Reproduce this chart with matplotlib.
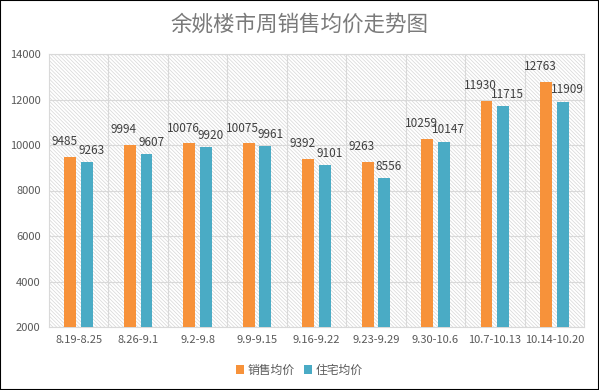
import matplotlib
matplotlib.use("Agg")
import matplotlib.pyplot as plt
import numpy as np
from matplotlib import font_manager

plt.rcParams['font.family'] = ['Noto Sans CJK SC', 'DejaVu Sans']
plt.rcParams['hatch.linewidth'] = 0.5

categories = ["8.19-8.25", "8.26-9.1", "9.2-9.8", "9.9-9.15", "9.16-9.22",
              "9.23-9.29", "9.30-10.6", "10.7-10.13", "10.14-10.20"]
sales_avg = [9485, 9994, 10076, 10075, 9392, 9263, 10259, 11930, 12763]
house_avg = [9263, 9607, 9920, 9961, 9101, 8556, 10147, 11715, 11909]
series_names = ["销售均价", "住宅均价"]
yticks = [2000, 4000, 6000, 8000, 10000, 12000, 14000]

names = {f.name for f in font_manager.fontManager.ttflist}
label_family = ['Liberation Sans Narrow', 'DejaVu Sans'] if 'Liberation Sans Narrow' in names \
    else ['Noto Sans CJK SC', 'DejaVu Sans']

fig = plt.figure(figsize=(5.99, 3.90), dpi=100)
ax = fig.add_axes([49/599, 1-327/390, (584-49)/599, (327-54)/390])

# hatched background
ax.add_patch(plt.Rectangle((0, 0), 1, 1, transform=ax.transAxes, facecolor='white',
                           edgecolor='#d6d6d6', linewidth=0, hatch='\\' * 9, zorder=0))

x = np.arange(len(categories))
w = 0.2
off = 0.14
c1, c2 = '#F7923A', '#4AABC5'
b1 = ax.bar(x - off, sales_avg, w, color=c1, label=series_names[0], zorder=3)
b2 = ax.bar(x + off, house_avg, w, color=c2, label=series_names[1], zorder=3)

for xi, v in zip(x, sales_avg):
    ax.text(xi - off - 0.1, v + 380, str(v), ha='center', va='bottom', fontsize=8.5,
            color='#404040', zorder=4, family=label_family)
for xi, v in zip(x, house_avg):
    ax.text(xi + off + 0.08, v + 230, str(v), ha='center', va='bottom', fontsize=8.5,
            color='#404040', zorder=4, family=label_family)

ax.set_xlim(-0.5, len(categories) - 0.5)
ax.set_ylim(2000, 14000)
ax.set_yticks(yticks)
ax.set_yticklabels([str(t) for t in yticks], fontsize=8, color='#595959')
ax.set_xticks(x)
ax.set_xticklabels(categories, fontsize=8, color='#595959')
ax.tick_params(length=0, pad=6)

for t in yticks:
    ax.axhline(t, color='#d9d9d9', lw=0.8, zorder=1)
for xv in np.arange(0.5, len(categories) - 0.5, 1):
    ax.axvline(xv, color='#d9d9d9', lw=0.8, zorder=1)
for s in ax.spines.values():
    s.set_color('#d9d9d9')
    s.set_linewidth(0.8)

fig.text(0.5, 1 - 25/390, "余姚楼市周销售均价走势图", ha='center', va='center',
         fontsize=15.5, color='#7a7a7a')

leg = fig.legend(handles=[b1, b2], labels=series_names, loc='center',
                 bbox_to_anchor=(0.5, 1 - 370/390), ncol=2, frameon=False,
                 fontsize=8.5, handlelength=0.7, handleheight=0.7, columnspacing=0.8,
                 handletextpad=0.3)
for t in leg.get_texts():
    t.set_color('#595959')

fig.patches.append(plt.Rectangle((0, 0), 1, 1, transform=fig.transFigure, fill=False,
                                 edgecolor='black', lw=1.5))
fig.savefig("out.png", dpi=100)
